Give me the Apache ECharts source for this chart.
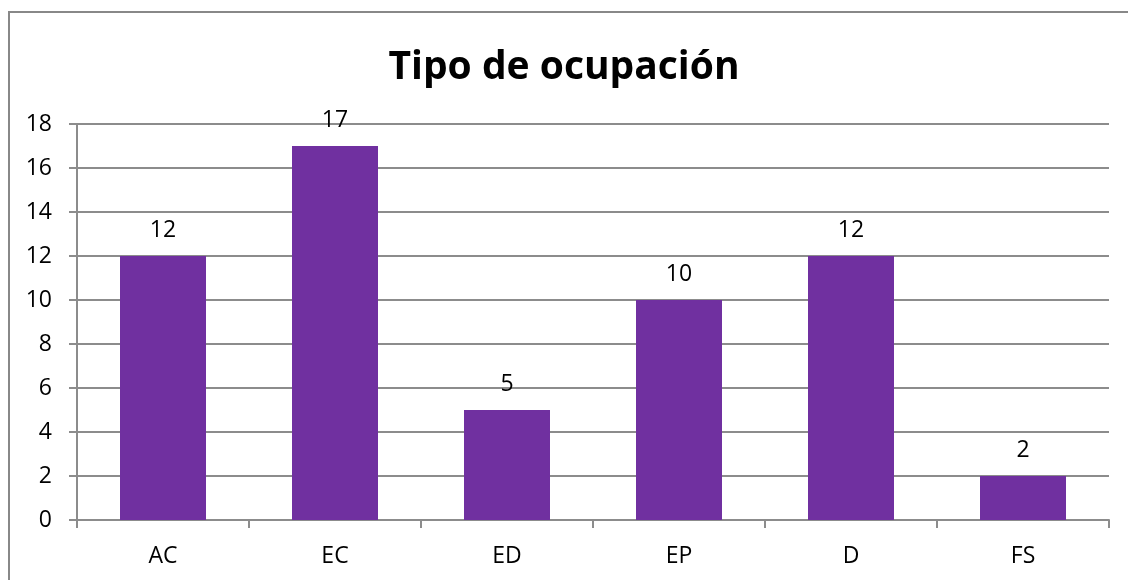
<!DOCTYPE html>
<html>
<head>
<meta charset="utf-8">
<script src="https://cdn.jsdelivr.net/npm/echarts@6/dist/echarts.min.js"></script>
<style>
  html, body { margin: 0; padding: 0; background: #fff; }
  #wrap { position: relative; width: 1128px; height: 580px; overflow: hidden; }
  #frame { position: absolute; left: 8px; top: 11px; width: 1200px; height: 700px;
           border-left: 2px solid #888; border-top: 2px solid #888; box-sizing: border-box; }
  #chart { position: absolute; left: 0; top: 0; width: 1128px; height: 580px; }
</style>
</head>
<body>
<div id="wrap">
  <div id="frame"></div>
  <div id="chart"></div>
</div>
<script>
const categories = ['AC', 'EC', 'ED', 'EP', 'D', 'FS']
const values = [12, 17, 5, 10, 12, 2]
const chartTitle = 'Tipo de ocupación'

const FONT = '"Open Sans", sans-serif'
const chart = echarts.init(document.getElementById('chart'))

chart.setOption({
  animation: false,
  title: {
    text: chartTitle,
    left: 'center',
    top: 43,
    textStyle: { fontFamily: FONT, fontWeight: 'bold', fontSize: 39, color: '#000' },
  },
  grid: { left: 77, right: 19, top: 124, bottom: 60 },
  xAxis: {
    type: 'category',
    data: categories,
    axisLine: { lineStyle: { color: '#8c8c8c', width: 2 } },
    axisTick: { show: true, length: 8, lineStyle: { color: '#8c8c8c', width: 2 } },
    axisLabel: { color: '#000', fontFamily: FONT, fontSize: 23, margin: 25 },
  },
  yAxis: {
    type: 'value',
    min: 0, max: 18, interval: 2,
    axisLine: { show: true, lineStyle: { color: '#8c8c8c', width: 2 } },
    axisTick: { show: true, length: 8, lineStyle: { color: '#8c8c8c', width: 2 } },
    axisLabel: { color: '#000', fontFamily: FONT, fontSize: 23, margin: 25 },
    splitLine: { lineStyle: { color: '#8c8c8c', width: 2 } },
  },
  series: [{
    type: 'bar',
    data: values,
    barWidth: '50%',
    itemStyle: { color: '#7030A0' },
    label: {
      show: true, position: 'top', distance: 14,
      color: '#000', fontFamily: FONT, fontSize: 23,
    },
  }],
})
</script>
</body>
</html>
